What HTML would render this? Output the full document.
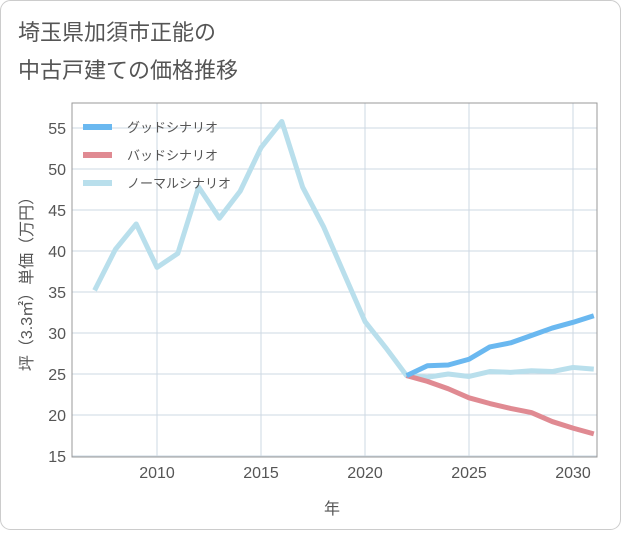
<!DOCTYPE html>
<html><head><meta charset="utf-8"><style>
body{margin:0;background:#fff;}
svg text{font-family:"Liberation Sans","Noto Sans CJK JP",sans-serif;}
</style></head><body>
<svg width="621" height="530" xmlns="http://www.w3.org/2000/svg">
<rect x="0.5" y="0.5" width="620" height="529" rx="10" fill="#fff" stroke="#ccc"/>
<text x="18" y="40" font-size="22" fill="#555">埼玉県加須市正能の</text>
<text x="18" y="78" font-size="22" fill="#555">中古戸建ての価格推移</text>
<g id="grid"></g>
<rect x="72" y="103" width="525" height="354" fill="none" stroke="#999"/>
<g id="ticks"></g>
<g id="series"></g>
<g id="legend"></g>
<text x="332" y="514" font-size="16" fill="#555" text-anchor="middle">年</text>
<text transform="translate(32,280) rotate(-90)" font-size="16" fill="#555" text-anchor="middle">坪（3.3㎡）単価（万円）</text>
</svg>
<script>
const yTicks=[15,20,25,30,35,40,45,50,55];
const xTicks=[2010,2015,2020,2025,2030];
const years=[2007,2008,2009,2010,2011,2012,2013,2014,2015,2016,2017,2018,2019,2020,2021,2022,2023,2024,2025,2026,2027,2028,2029,2030,2031];
const normal=[35.2,40.2,43.3,38,39.7,47.8,44,47.3,52.6,55.8,47.8,43,37.2,31.4,28.2,24.8,24.6,25,24.7,25.3,25.2,25.4,25.3,25.8,25.6];
const goodYears=[2022,2023,2024,2025,2026,2027,2028,2029,2030,2031];
const good=[24.8,26,26.1,26.8,28.3,28.8,29.7,30.6,31.3,32.1];
const bad=[24.8,24.1,23.2,22.1,21.4,20.8,20.3,19.2,18.4,17.7];
const legendNames=["グッドシナリオ","バッドシナリオ","ノーマルシナリオ"];
const colors=["#6ab8f0","#e08a92","#b9dfec"];
const X=v=>157+(v-2010)*20.8, Y=v=>456-(v-15)*8.2;
const NS="http://www.w3.org/2000/svg";
function mk(t,a,p){const e=document.createElementNS(NS,t);for(const k in a)e.setAttribute(k,a[k]);p.appendChild(e);return e;}
const grid=document.getElementById('grid'),ticks=document.getElementById('ticks'),series=document.getElementById('series'),legend=document.getElementById('legend');
yTicks.forEach(v=>{const l=mk('line',{x1:72,x2:597,y1:Y(v),y2:Y(v),stroke:'#cdd9e3'},grid);


const t=mk('text',{x:66,y:Y(v)+6,'font-size':16,fill:'#555','text-anchor':'end'},ticks);t.textContent=v;

});
xTicks.forEach(v=>{const l=mk('line',{x1:X(v),x2:X(v),y1:103,y2:457,stroke:'#cdd9e3'},grid);


const t=mk('text',{x:X(v),y:478,'font-size':16,fill:'#555','text-anchor':'middle'},ticks);t.textContent=v;

});
function line(xs,ys,c,name){const p=mk('polyline',{points:xs.map((x,i)=>X(x)+','+Y(ys[i])).join(' '),fill:'none',stroke:c,'stroke-width':5,'stroke-linejoin':'round'},series);

}
line(years,normal,colors[2],'normal-line');
line(goodYears,bad,colors[1],'bad-line');
line(goodYears,good,colors[0],'good-line');
legendNames.forEach((n,i)=>{const y=127+i*28;
const l=mk('line',{x1:83,x2:112,y1:y,y2:y,stroke:colors[i],'stroke-width':6},legend);


const t=mk('text',{x:127,y:y+5,'font-size':13,fill:'#555'},legend);t.textContent=n;

});
</script>
</body></html>
